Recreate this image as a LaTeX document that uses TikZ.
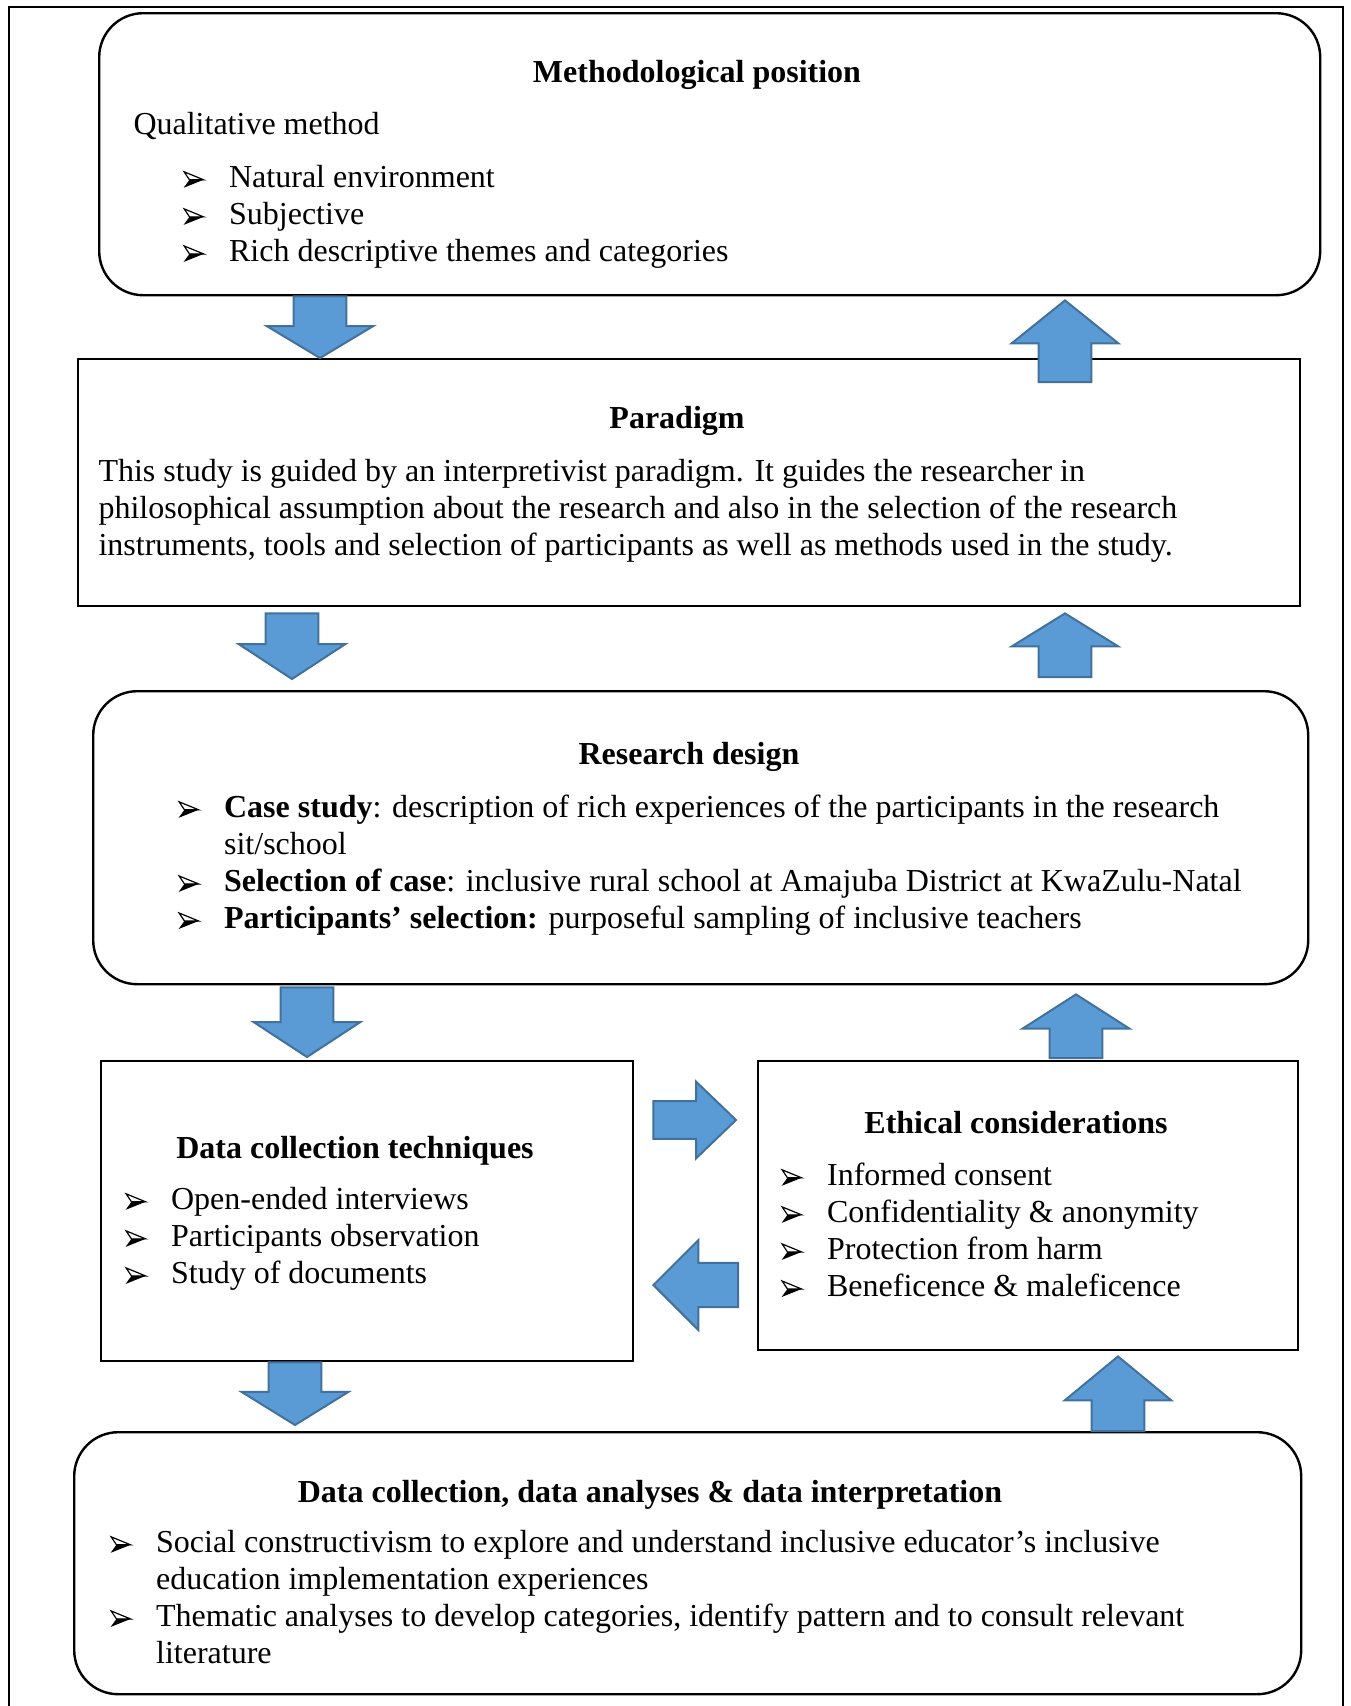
\documentclass[tikz,border=0pt]{standalone}
\usepackage{fontspec}
\setmainfont{Liberation Serif}
\usetikzlibrary{calc}
\definecolor{FlowBlue}{RGB}{91,155,213}
\definecolor{FlowBlueEdge}{RGB}{65,113,156}
\newcommand\px{0.375pt}
\newcommand\arrowbul{\tikz[x=1pt,y=1pt,baseline=0.3pt]{
  \fill (0,0) -- (7.5,3) -- (2.2,3) -- cycle;
  \draw[line width=0.45pt, line join=miter] (0.2,6) -- (7.5,3) -- (2.2,3) -- cycle;}}
\newcommand\flowlist[1]{\begin{tabular}[t]{@{}p{17.1pt}@{}l@{}}#1\end{tabular}}
\tikzset{
  flow/frame/.style={draw=black, line width=1.1pt},
  flow/roundbox/.style={draw=black, line width=0.9pt, rounded corners=16.5pt, anchor=north west, inner sep=0pt},
  flow/squarebox/.style={draw=black, line width=0.9pt, anchor=north west, inner sep=0pt},
  flow/title/.style={font=\fontsize{12pt}{13.9pt}\selectfont\bfseries, inner sep=0pt, anchor=base},
  flow/text/.style={font=\fontsize{12pt}{13.9pt}\selectfont, inner sep=0pt, anchor=base west},
  flow/shaft/.store in=\flowshaft,
  flow/head/.store in=\flowhead,
  flow/tip/.store in=\flowtip,
  flow/shaft=9.9pt, flow/head=20pt, flow/tip=12.4pt,
  flow/arrow/.style={
    draw=FlowBlueEdge,
    fill=FlowBlue,
    line width=0.75pt,
    line join=miter,
    to path={
      ($(\tikztotarget)!\flowtip!(\tikztostart)$) coordinate (hb)
      ($(\tikztostart)!\flowshaft!90:(\tikztotarget)$)
      -- ($(hb)!\flowshaft!90:(\tikztotarget)$)
      -- ($(hb)!\flowhead!90:(\tikztotarget)$)
      -- (\tikztotarget)
      -- ($(hb)!\flowhead!-90:(\tikztotarget)$)
      -- ($(hb)!\flowshaft!-90:(\tikztotarget)$)
      -- ($(\tikztostart)!\flowshaft!-90:(\tikztotarget)$)
      -- cycle
    }
  }
}

\begin{document}
\begin{tikzpicture}[x=0.375pt,y=-0.375pt]
  \useasboundingbox (0,0) rectangle (1350,1706);
  \draw[flow/frame] (9,1720) -- (9,7) -- (1343,7) -- (1343,1720);

  \node[flow/roundbox, minimum width=1221*\px, minimum height=282*\px] (meth) at (98,12) {};
  \node[flow/title] (methtitle) at (697,82) {Methodological position};
  \node[flow/text] (methsub) at (133,134) {Qualitative method};
  \node[flow/text] (methlist) at (183,187) {\flowlist{
    \arrowbul & Natural environment\\
    \arrowbul & Subjective\\
    \arrowbul & Rich descriptive themes and categories}};

  \node[flow/squarebox, minimum width=1222*\px, minimum height=247*\px] (para) at (77,358) {};
  \node[flow/title] (paratitle) at (677,428) {Paradigm};
  \node[flow/text] (paratext) at (98,481) {\begin{tabular}[t]{@{}l@{}}
    This study is guided by an interpretivist paradigm. It guides the researcher in\\
    philosophical assumption about the research and also in the selection of the research\\
    instruments, tools and selection of participants as well as methods used in the study.
    \end{tabular}};

  \node[flow/roundbox, minimum width=1215*\px, minimum height=293*\px] (res) at (92,690) {};
  \node[flow/title] (restitle) at (689,764) {Research design};
  \node[flow/text] (reslist) at (178,817) {\flowlist{
    \arrowbul & \textbf{Case study}: description of rich experiences of the participants in the research\\
     & sit/school\\
    \arrowbul & \textbf{Selection of case}: inclusive rural school at Amajuba District at KwaZulu-Natal\\
    \arrowbul & \textbf{Participants’ selection:} purposeful sampling of inclusive teachers}};

  \node[flow/squarebox, minimum width=532*\px, minimum height=300*\px] (tech) at (100,1060) {};
  \node[flow/title] (techtitle) at (355,1158) {Data collection techniques};
  \node[flow/text] (techlist) at (125,1209) {\flowlist{
    \arrowbul & Open-ended interviews\\
    \arrowbul & Participants observation\\
    \arrowbul & Study of documents}};

  \node[flow/squarebox, minimum width=540*\px, minimum height=289*\px] (eth) at (757,1060) {};
  \node[flow/title] (ethtitle) at (1016,1133) {Ethical considerations};
  \node[flow/text] (ethlist) at (781,1185) {\flowlist{
    \arrowbul & Informed consent\\
    \arrowbul & Confidentiality \& anonymity\\
    \arrowbul & Protection from harm\\
    \arrowbul & Beneficence \& maleficence}};

  \node[flow/roundbox, minimum width=1227*\px, minimum height=262*\px] (anal) at (73,1431) {};
  \node[flow/title] (analtitle) at (650,1502) {Data collection, data analyses \& data interpretation};
  \node[flow/text] (anallist) at (110,1552) {\flowlist{
    \arrowbul & Social constructivism to explore and understand inclusive educator’s inclusive\\
     & education implementation experiences\\
    \arrowbul & Thematic analyses to develop categories, identify pattern and to consult relevant\\
     & literature}};

  \draw[flow/arrow, flow/tip=12pt] (meth.south -| 320,0) to (para.north -| 320,0);
  \draw[flow/arrow, flow/tip=16.1pt] ($(para.north -| 1065,0)+(0,24)$) to ($(meth.south -| 1065,0)+(0,4)$);
  \draw[flow/arrow, flow/tip=13.1pt] ($(para.south -| 292,0)+(0,6)$) to ($(res.north -| 292,0)+(0,-11)$);
  \draw[flow/arrow] ($(res.north -| 1065,0)+(0,-13)$) to ($(para.south -| 1065,0)+(0,6)$);
  \draw[flow/arrow, flow/tip=13.1pt] ($(res.south -| 307,0)+(0,2)$) to ($(tech.north -| 307,0)+(0,-3)$);
  \draw[flow/arrow, flow/tip=12.8pt] ($(eth.north -| 1076,0)+(0,-2)$) to ($(res.south -| 1076,0)+(0,9)$);
  \draw[flow/arrow, flow/shaft=7.1pt, flow/head=14.4pt, flow/tip=15pt] ($(tech.east |- 0,1120)+(19,0)$) to ($(eth.west |- 0,1120)+(-21,0)$);
  \draw[flow/arrow, flow/shaft=8.3pt, flow/head=16.9pt, flow/tip=16.9pt] ($(eth.west |- 0,1285)+(-19,0)$) to ($(tech.east |- 0,1285)+(19,0)$);
  \draw[flow/arrow] (tech.south -| 295,0) to ($(anal.north -| 295,0)+(0,-6)$);
  \draw[flow/arrow, flow/tip=16.5pt] (anal.north -| 1118,0) to ($(eth.south -| 1118,0)+(0,5)$);
\end{tikzpicture}
\end{document}
